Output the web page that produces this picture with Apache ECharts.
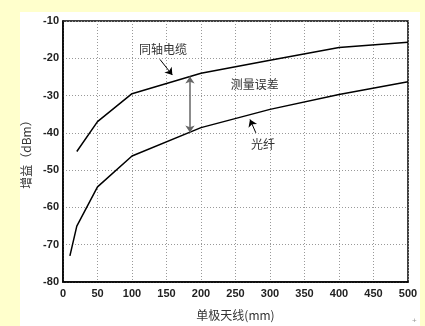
<!DOCTYPE html>
<html>
<head>
<meta charset="utf-8">
<script src="https://cdn.jsdelivr.net/npm/echarts@6/dist/echarts.min.js"></script>
<style>
  html, body { margin: 0; padding: 0; background: #FFFFCC; }
  #chart { width: 425px; height: 326px; }
</style>
</head>
<body>
<div id="chart"></div>
<script>
// Antenna length (mm) against received gain (dBm) for coax and fibre feeds
const coaxLen   = [20, 50, 100, 200, 300, 400, 500];
const coaxGain  = [-45, -37, -29.5, -24, -20.5, -17.1, -15.7];
const fiberLen  = [10, 20, 50, 100, 200, 300, 400, 500];
const fiberGain = [-73, -65, -54.5, -46.2, -38.6, -33.7, -29.7, -26.3];

const xTicks = { min: 0, max: 500, step: 50 };
const yTicks = { min: -80, max: -10, step: 10 };

// annotation anchors in data units
const errorBar   = [[184, -24.9], [184, -39.9]];
const coaxArrow  = [[140.5, -20.3], [158.5, -24.5]];
const fiberArrow = [[279.5, -40.0], [271, -36.4]];
const notes = [
  { text: '同轴电缆', at: [145, -17.6] },
  { text: '测量误差', at: [278, -27.0] },
  { text: '光纤',     at: [290, -43.1] }
];

const pairs = (xs, ys) => xs.map((x, i) => [x, ys[i]]);
const cjk = '"Noto Sans CJK SC", sans-serif';
const num = '"Liberation Sans", Arial, sans-serif';

const chart = echarts.init(document.getElementById('chart'), null, { renderer: 'canvas' });

const axisCommon = {
  type: 'value',
  axisLine: { show: true, lineStyle: { color: '#000', width: 1.5 } },
  axisTick: { show: false },
  splitLine: { show: true, lineStyle: { color: '#999', type: [1, 2], width: 1 } },
  axisLabel: { color: '#222', fontSize: 11, fontWeight: 'bold', fontFamily: num }
};

chart.setOption({
  backgroundColor: '#FFFFCC',
  animation: false,
  graphic: [
    { type: 'rect', z: -10, shape: { x: 20, y: 12, width: 400, height: 314 }, style: { fill: '#fff' } },
    { type: 'text', left: 412, top: 317, style: { text: '+', fill: '#999', fontSize: 8, fontFamily: num } }
  ],
  grid: {
    left: 63, right: 17, top: 21, bottom: 34,
    show: true, backgroundColor: '#fff', borderColor: '#000', borderWidth: 1.5
  },
  xAxis: Object.assign({}, axisCommon, {
    min: xTicks.min, max: xTicks.max, interval: xTicks.step,
    name: '单极天线(mm)', nameLocation: 'middle', nameGap: 27,
    nameTextStyle: { color: '#333', fontSize: 12, fontFamily: cjk },
    axisLabel: Object.assign({}, axisCommon.axisLabel, { margin: 6 })
  }),
  yAxis: Object.assign({}, axisCommon, {
    min: yTicks.min, max: yTicks.max, interval: yTicks.step,
    name: '增益（dBm）', nameLocation: 'middle', nameGap: 28, nameRotate: 90,
    nameTextStyle: { color: '#333', fontSize: 12, fontFamily: cjk },
    axisLabel: Object.assign({}, axisCommon.axisLabel, { margin: 4 })
  }),
  series: [
    {
      name: '同轴电缆', type: 'line', data: pairs(coaxLen, coaxGain),
      symbol: 'none', lineStyle: { color: '#000', width: 1.5 }, z: 3,
      markLine: {
        silent: true, symbol: ['none', 'arrow'], symbolSize: 7,
        lineStyle: { color: '#000', width: 1, type: 'solid' }, label: { show: false },
        data: [[{ coord: coaxArrow[0] }, { coord: coaxArrow[1] }]]
      },
      markPoint: {
        silent: true, symbol: 'circle', symbolSize: 0,
        label: { show: true, position: 'inside', color: '#333', fontSize: 12, fontFamily: cjk,
                 formatter: p => p.name },
        data: notes.map(n => ({ name: n.text, coord: n.at }))
      }
    },
    {
      name: '光纤', type: 'line', data: pairs(fiberLen, fiberGain),
      symbol: 'none', lineStyle: { color: '#000', width: 1.5 }, z: 3,
      markLine: {
        silent: true, symbolSize: 7, label: { show: false },
        data: [
          [{ coord: errorBar[0], symbol: 'arrow', lineStyle: { color: '#666', width: 1.5, type: 'solid' } },
           { coord: errorBar[1], symbol: 'arrow' }],
          [{ coord: fiberArrow[0], symbol: 'none', lineStyle: { color: '#000', width: 1, type: 'solid' } },
           { coord: fiberArrow[1], symbol: 'arrow' }]
        ]
      }
    }
  ]
});
</script>
</body>
</html>
